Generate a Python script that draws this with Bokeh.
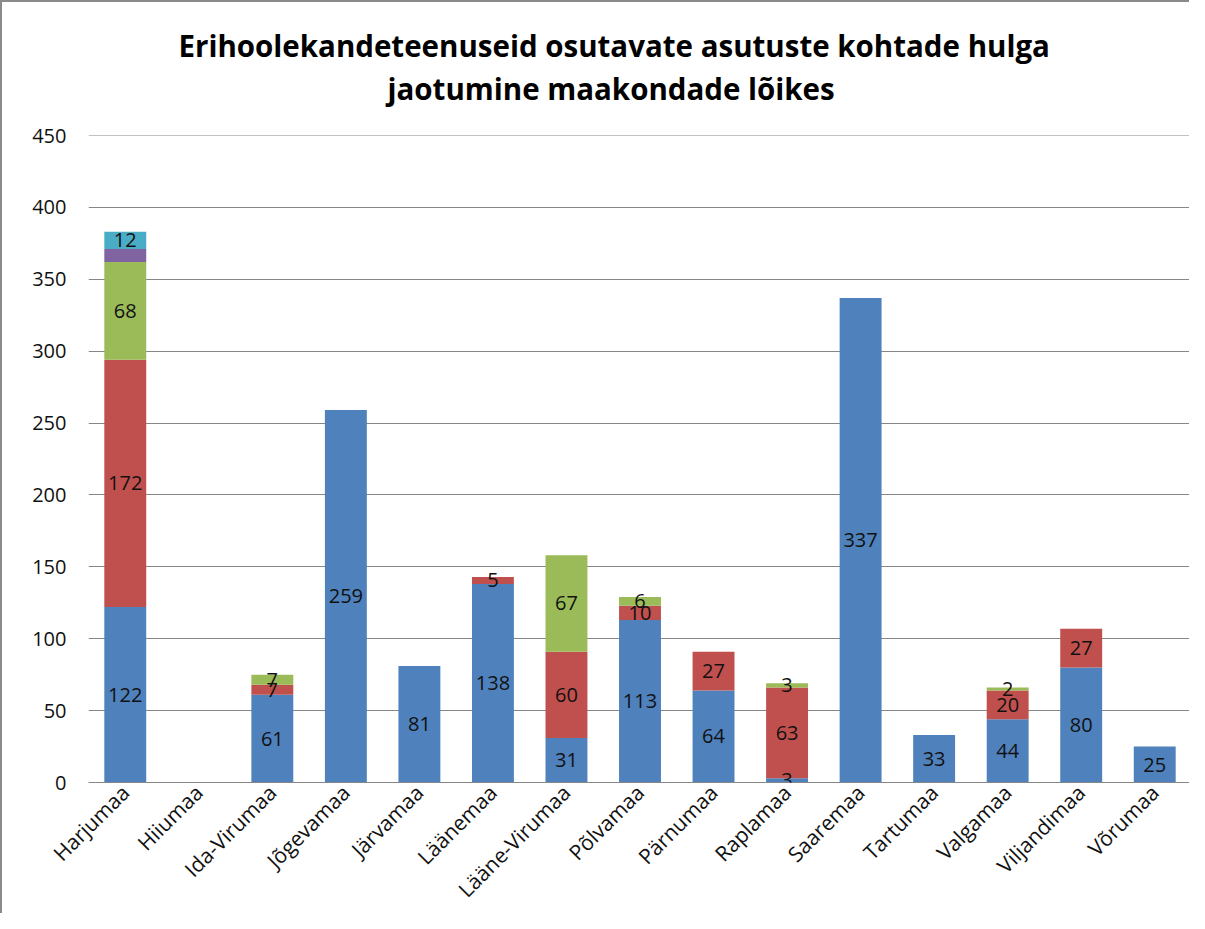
from bokeh.plotting import figure
from bokeh.models import ColumnDataSource, FactorRange, Range1d, Title, FixedTicker, LabelSet, Span
from bokeh.core.properties import value
from bokeh.embed import file_html
from bokeh.resources import INLINE
import math

counties = ["Harjumaa", "Hiiumaa", "Ida-Virumaa", "Jõgevamaa", "Järvamaa", "Läänemaa",
            "Lääne-Virumaa", "Põlvamaa", "Pärnumaa", "Raplamaa", "Saaremaa", "Tartumaa",
            "Valgamaa", "Viljandimaa", "Võrumaa"]
s1 = [122, 0, 61, 259, 81, 138, 31, 113, 64, 3, 337, 33, 44, 80, 25]
s2 = [172, 0, 7, 0, 0, 5, 60, 10, 27, 63, 0, 0, 20, 27, 0]
s3 = [68, 0, 7, 0, 0, 0, 67, 6, 0, 3, 0, 0, 2, 0, 0]
s4 = [9, 0, 0, 0, 0, 0, 0, 0, 0, 0, 0, 0, 0, 0, 0]
s5 = [12, 0, 0, 0, 0, 0, 0, 0, 0, 0, 0, 0, 0, 0, 0]
series = ["s1", "s2", "s3", "s4", "s5"]
colors = ["#4F81BD", "#C0504D", "#9BBB59", "#8064A2", "#4BACC6"]
labelled = [True, True, True, False, True]
y_ticks = [0, 50, 100, 150, 200, 250, 300, 350, 400, 450]
title1 = "Erihoolekandeteenuseid osutavate asutuste kohtade hulga"
title2 = "jaotumine maakondade lõikes"

src = ColumnDataSource(dict(county=counties, s1=s1, s2=s2, s3=s3, s4=s4, s5=s5))

p = figure(x_range=FactorRange(factors=counties, range_padding=0), y_range=Range1d(0, 450),
           width=1189, height=913, output_backend="svg", toolbar_location=None,
           min_border_left=86, min_border_right=0, min_border_bottom=40, min_border_top=133)
p.styles = {"border-left": "2px solid #8a8a8a", "border-top": "2px solid #8a8a8a"}

p.vbar_stack(series, x="county", width=0.57, color=colors, line_color=None, source=src)
p.add_layout(Span(location=y_ticks[-1], dimension="width", line_color="#868686", line_width=1))

# data labels
all_s = [s1, s2, s3, s4, s5]
lx, ly, lt = [], [], []
base = [0] * len(counties)
for vals, lab in zip(all_s, labelled):
    for i, v in enumerate(vals):
        if v > 0 and lab:
            lx.append(counties[i]); ly.append(base[i] + v / 2); lt.append(str(v))
        base[i] += v
lsrc = ColumnDataSource(dict(x=lx, y=ly, t=lt))
p.add_layout(LabelSet(x="x", y="y", text="t", source=lsrc, text_align="center",
                      text_baseline="middle", text_font=value("Open Sans"),
                      text_font_size="20px", text_color="#111111"))

# titles (spacer closest to the frame, then line 2, then line 1)
p.add_layout(Title(text=" ", text_font_size="10px", standoff=10), "above")
p.add_layout(Title(text=title2, align="left", offset=299, text_font="Open Sans",
                   text_font_size="29.5px", text_font_style="bold", text_color="#000000",
                   standoff=7), "above")
p.add_layout(Title(text=title1, align="left", offset=90, text_font="Open Sans",
                   text_font_size="29.5px", text_font_style="bold", text_color="#000000",
                   standoff=-7), "above")

p.yaxis.ticker = FixedTicker(ticks=y_ticks)
p.yaxis.axis_line_color = None
p.yaxis.major_tick_line_color = None
p.yaxis.major_tick_out = 0
p.yaxis.major_tick_in = 0
p.yaxis.minor_tick_line_color = None
p.yaxis.major_label_text_font = "Open Sans"
p.yaxis.major_label_text_font_size = "20px"
p.yaxis.major_label_text_color = "#111111"
p.yaxis.major_label_standoff = 22

p.xaxis.axis_line_color = "#868686"
p.xaxis.axis_line_width = 1
p.xaxis.major_tick_line_color = None
p.xaxis.major_tick_out = 0
p.xaxis.major_tick_in = 0
p.xaxis.minor_tick_line_color = None
p.xaxis.major_label_orientation = math.pi / 4
p.xaxis.major_label_text_font = "Open Sans"
p.xaxis.major_label_text_font_size = "21px"
p.xaxis.major_label_text_color = "#111111"
p.xaxis.major_label_standoff = 6

p.xgrid.grid_line_color = None
p.ygrid.grid_line_color = "#868686"
p.ygrid.grid_line_width = 1
p.outline_line_color = None

open("out.html", "w").write(file_html(p, INLINE))
